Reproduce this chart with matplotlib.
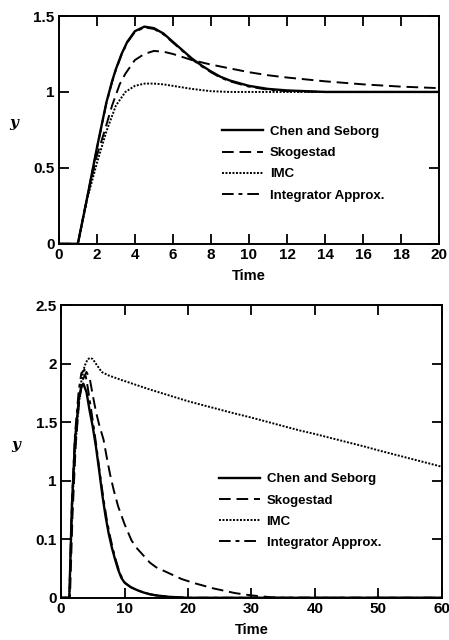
import matplotlib
matplotlib.use("Agg")
import matplotlib.pyplot as plt

# --- dados ---
# painel de cima (mudança de setpoint)
t_cs1 = [0, 1.0, 1.5, 2.0, 2.5, 2.8, 3.0, 3.3, 3.6, 4.0, 4.5, 5.0, 5.5, 6.0, 6.5, 7.0, 7.5, 8.0, 8.5, 9.0, 10, 11, 12, 14, 16, 18, 20]
y_cs1 = [0, 0, 0.31, 0.63, 0.93, 1.07, 1.15, 1.25, 1.33, 1.40, 1.43, 1.42, 1.385, 1.33, 1.275, 1.22, 1.175, 1.135, 1.10, 1.075, 1.04, 1.02, 1.01, 1.0, 1.0, 1.0, 1.0]
t_sk1 = [0, 1.0, 1.5, 2.0, 2.4, 2.8, 3.2, 3.5, 4.0, 4.5, 5.0, 5.5, 6, 6.5, 7, 8, 9, 10, 11, 12, 14, 16, 18, 20]
y_sk1 = [0, 0, 0.31, 0.58, 0.74, 0.91, 1.05, 1.12, 1.21, 1.25, 1.27, 1.265, 1.25, 1.23, 1.21, 1.18, 1.155, 1.13, 1.11, 1.095, 1.07, 1.05, 1.035, 1.025]
t_imc1 = [0, 1.0, 1.5, 2.0, 2.5, 3.0, 3.5, 4.0, 4.5, 5.0, 5.5, 6, 7, 8, 9, 10, 12, 14, 16, 18, 20]
y_imc1 = [0, 0, 0.30, 0.53, 0.74, 0.91, 1.0, 1.04, 1.055, 1.055, 1.05, 1.04, 1.02, 1.005, 1.0, 1.0, 1.0, 1.0, 1.0, 1.0, 1.0]
t_int1 = t_cs1
y_int1 = [0, 0, 0.31, 0.625, 0.925, 1.065, 1.145, 1.245, 1.325, 1.395, 1.425, 1.415, 1.38, 1.325, 1.27, 1.215, 1.17, 1.13, 1.095, 1.07, 1.035, 1.015, 1.005, 1.0, 1.0, 1.0, 1.0]

# painel de baixo (perturbação na carga)
t_cs2 = [0, 1.3, 1.7, 2.2, 2.8, 3.2, 3.5, 4.0, 4.5, 5.0, 5.5, 6.0, 6.5, 7.0, 7.5, 8.0, 8.5, 9.0, 9.5, 10, 11, 12, 13, 14, 15, 17, 20, 30, 40, 50, 60]
y_cs2 = [0, 0, 0.78, 1.35, 1.70, 1.80, 1.83, 1.76, 1.60, 1.46, 1.29, 1.09, 0.88, 0.70, 0.55, 0.43, 0.33, 0.24, 0.17, 0.13, 0.09, 0.065, 0.045, 0.03, 0.02, 0.008, 0, 0, 0, 0, 0]
t_sk2 = [0, 1.4, 1.8, 2.3, 2.8, 3.3, 4.0, 4.5, 5.0, 5.5, 6, 6.7, 7.2, 7.7, 8.3, 9.0, 10, 11.1, 12, 13, 14, 15, 17, 19, 21, 24, 27.4, 30, 33, 35, 40, 60]
y_sk2 = [0, 0, 0.7, 1.3, 1.65, 1.85, 1.93, 1.88, 1.73, 1.59, 1.48, 1.35, 1.20, 1.06, 0.92, 0.78, 0.63, 0.49, 0.42, 0.36, 0.30, 0.26, 0.21, 0.16, 0.125, 0.08, 0.04, 0.02, 0.005, 0, 0, 0]
t_imc2 = [0, 1.3, 1.7, 2.2, 2.7, 3.2, 3.7, 4.2, 4.6, 5.0, 5.5, 6.4, 7.5, 9.6, 14, 20, 27, 30, 37.6, 40, 48, 50, 55, 60]
y_imc2 = [0, 0, 0.7, 1.25, 1.6, 1.85, 1.98, 2.04, 2.05, 2.04, 2.00, 1.93, 1.90, 1.86, 1.78, 1.68, 1.58, 1.54, 1.43, 1.40, 1.29, 1.26, 1.19, 1.12]
t_int2 = [0, 1.3, 1.7, 2.2, 2.8, 3.2, 3.7, 4.2, 4.7, 5.2, 5.7, 6.2, 6.7, 7.2, 7.7, 8.2, 8.7, 9.2, 9.7, 10.2, 11, 12, 13, 14, 15, 17, 20, 60]
y_int2 = [0, 0, 0.8, 1.4, 1.78, 1.92, 1.95, 1.80, 1.62, 1.44, 1.24, 1.03, 0.84, 0.67, 0.53, 0.41, 0.31, 0.22, 0.16, 0.12, 0.09, 0.065, 0.045, 0.03, 0.02, 0.008, 0, 0]

labels = ["Chen and Seborg", "Skogestad", "IMC", "Integrator Approx."]
xticks1 = [0, 2, 4, 6, 8, 10, 12, 14, 16, 18, 20]
yticks1 = [0, 0.5, 1, 1.5]
yticklabels1 = ["0", "0.5", "1", "1.5"]
xticks2 = [0, 10, 20, 30, 40, 50, 60]
yticks2 = [0, 0.5, 1, 1.5, 2, 2.5]
yticklabels2 = ["0", "0.1", "1", "1.5", "2", "2.5"]  # assim está impresso no original

fonte = "Liberation Sans"
plt.rcParams['font.family'] = [fonte, 'DejaVu Sans']
plt.rcParams['font.weight'] = 'bold'

fig = plt.figure(figsize=(4.49, 6.4), dpi=100)
ax1 = fig.add_axes([0.131, 0.619, 0.847, 0.356])
ax2 = fig.add_axes([0.136, 0.066, 0.848, 0.457])

estilos = [
    dict(color='k', lw=1.7, linestyle='-'),
    dict(color='k', lw=1.4, linestyle=(0, (6, 3))),
    dict(color='k', lw=1.4, linestyle=(0, (1, 0.8))),
    dict(color='k', lw=1.4, linestyle=(0, (6, 2.5, 2, 2.5))),
]


def desenha(ax, series, xlim, ylim, xticks, yticks, ytl, leg_pos):
    for (t, y), lab, st in zip(series, labels, estilos):
        ax.plot(t, y, label=lab, **st)
    ax.set_xlim(*xlim)
    ax.set_ylim(*ylim)
    ax.set_xticks(xticks)
    ax.set_yticks(yticks)
    ax.set_yticklabels(ytl)
    ax.tick_params(direction='in', length=7, width=1.3, top=True, right=True,
                   labelsize=11, pad=3)
    for s in ax.spines.values():
        s.set_linewidth(1.4)
    ax.set_xlabel("Time", fontsize=10.5, fontweight='bold', labelpad=5)
    ax.set_ylabel("y", fontsize=11, fontweight='bold', fontstyle='italic',
                  family='DejaVu Serif', rotation=0, labelpad=14)
    ax.legend(loc='upper left', bbox_to_anchor=leg_pos, frameon=False,
              fontsize=9.5, handlelength=3.1, handletextpad=0.5, labelspacing=0.68,
              borderpad=0, borderaxespad=0)


desenha(ax1, [(t_cs1, y_cs1), (t_sk1, y_sk1), (t_imc1, y_imc1), (t_int1, y_int1)],
        (0, 20), (0, 1.5), xticks1, yticks1, yticklabels1, (0.43, 0.518))
desenha(ax2, [(t_cs2, y_cs2), (t_sk2, y_sk2), (t_imc2, y_imc2), (t_int2, y_int2)],
        (0, 60), (0, 2.5), xticks2, yticks2, yticklabels2, (0.415, 0.426))

plt.savefig("out.png", dpi=100)
